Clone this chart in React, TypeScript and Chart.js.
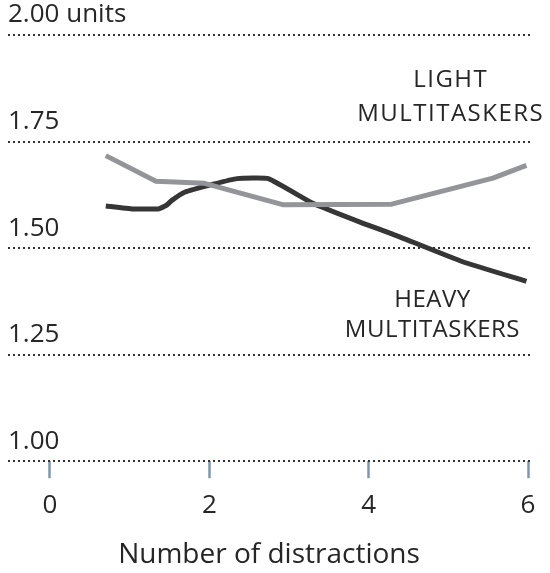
import { useEffect, useRef } from "react";
import { Chart, registerables } from "chart.js";

Chart.register(...registerables);

const xTicks = [0, 2, 4, 6];
const yTicks = [1.0, 1.25, 1.5, 1.75, 2.0];
const yUnit = "units";
const xTitle = "Number of distractions";

const lightX = [0.7, 1.33, 1.94, 2.92, 4.29, 5.56, 5.98];
const lightY = [1.717, 1.657, 1.652, 1.602, 1.603, 1.664, 1.694];

const heavyX = [0.7, 1.04, 1.36, 1.46, 1.53, 1.69, 2.05, 2.35, 2.74, 3.3, 3.93, 4.3, 5.18, 5.98];
const heavyY = [1.599, 1.592, 1.592, 1.6, 1.612, 1.631, 1.65, 1.663, 1.663, 1.605, 1.558, 1.533, 1.468, 1.422];

const lightLabel = ["LIGHT", "MULTITASKERS"];
const heavyLabel = ["HEAVY", "MULTITASKERS"];

const FONT = '"Open Sans", "Noto Sans", sans-serif';
const TEXT = "#262626";

export default function App() {
  const ref = useRef<HTMLCanvasElement | null>(null);

  useEffect(() => {
    if (!ref.current) return;
    const labelsPlugin = {
      id: "seriesLabels",
      afterDraw(chart: any) {
        const { ctx, scales } = chart;
        const xs = scales.x;
        const ys = scales.y;
        ctx.save();
        ctx.fillStyle = TEXT;
        ctx.font = `24px ${FONT}`;
        ctx.textAlign = "center";
        ctx.textBaseline = "middle";
        const draw = (lines: string[], xv: number, yv: number[], spacing: string) => {
          try {
            (ctx as any).letterSpacing = spacing;
          } catch (e) {}
          lines.forEach((t, i) => {
            ctx.fillText(t, xs.getPixelForValue(xv), ys.getPixelForValue(yv[i]));
          });
        };
        draw(lightLabel, 5.03, [1.893, 1.814], "1.5px");
        draw(heavyLabel, 4.8, [1.377, 1.308], "0.5px");
        ctx.restore();
      },
    };

    const chart = new Chart(ref.current, {
      type: "line",
      data: {
        datasets: [
          {
            label: "Light multitaskers",
            data: lightX.map((x, i) => ({ x, y: lightY[i] })),
            borderColor: "#939598",
            borderWidth: 5,
            pointRadius: 0,
            tension: 0,
            borderJoinStyle: "round",
          },
          {
            label: "Heavy multitaskers",
            data: heavyX.map((x, i) => ({ x, y: heavyY[i] })),
            borderColor: "#363636",
            borderWidth: 5,
            pointRadius: 0,
            tension: 0.12,
            borderJoinStyle: "round",
          },
        ],
      },
      plugins: [labelsPlugin],
      options: {
        animation: false,
        responsive: false,
        layout: { padding: { top: 35, left: 8, right: 20, bottom: 0 } },
        plugins: { legend: { display: false }, tooltip: { enabled: false } },
        scales: {
          x: {
            type: "linear",
            min: -0.527,
            max: 6.025,
            afterBuildTicks: (s: any) => {
              s.ticks = xTicks.map((v) => ({ value: v }));
            },
            grid: {
              drawOnChartArea: false,
              drawTicks: true,
              tickLength: 17,
              tickColor: "#7b97b1",
              tickWidth: 2.5,
            },
            border: { display: false },
            ticks: {
              color: TEXT,
              padding: 12,
              font: { family: FONT, size: 26 },
              maxRotation: 0,
              autoSkip: false,
            },
            title: {
              display: true,
              text: xTitle,
              color: TEXT,
              font: { family: FONT, size: 28 },
              padding: { top: 5, bottom: 1 },
            },
          },
          y: {
            type: "linear",
            min: 1,
            max: 2,
            afterBuildTicks: (s: any) => {
              s.ticks = yTicks.map((v) => ({ value: v }));
            },
            grid: {
              drawTicks: false,
              color: "#333333",
              lineWidth: 2,
            },
            border: { display: false, dash: [2, 3] },
            ticks: {
              mirror: true,
              padding: 0,
              labelOffset: -20,
              color: TEXT,
              font: { family: FONT, size: 26 },
              callback: (v: any) => {
                const n = Number(v);
                return n === 2 ? `${n.toFixed(2)} ${yUnit}` : n.toFixed(2);
              },
            },
          },
        },
      },
    } as any);
    return () => chart.destroy();
  }, []);

  return (
    <div style={{ position: "fixed", left: 0, top: 0, width: 550, height: 573 }}>
      <canvas ref={ref} width={550} height={573} />
    </div>
  );
}
